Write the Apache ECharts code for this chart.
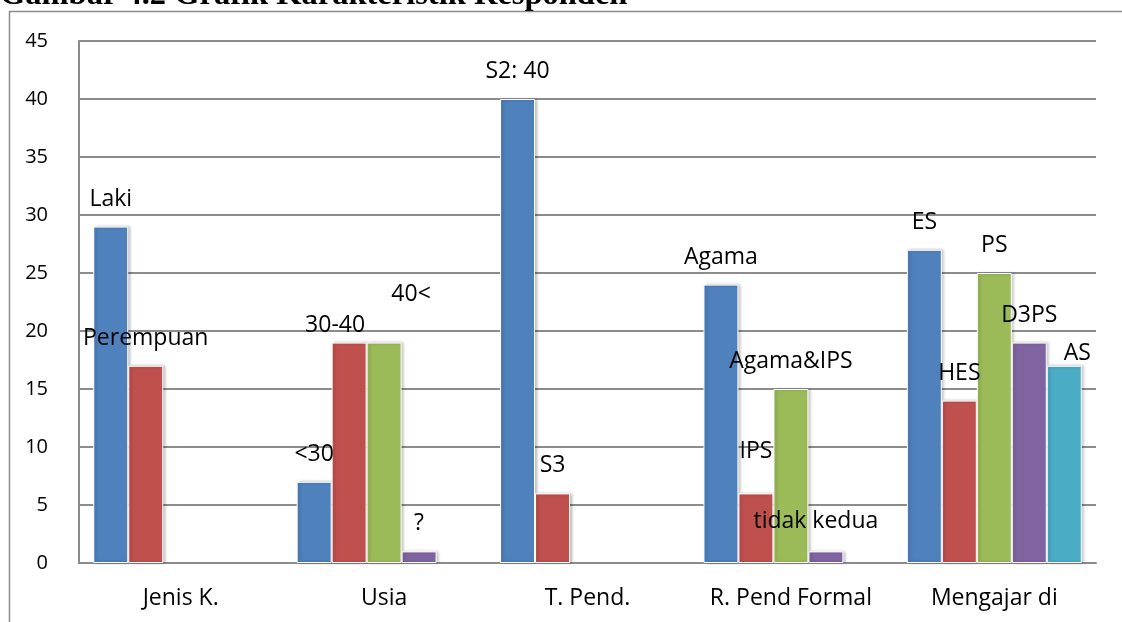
<!DOCTYPE html>
<html>
<head>
<meta charset="utf-8">
<script src="https://cdn.jsdelivr.net/npm/echarts@6/dist/echarts.min.js"></script>
<style>
  html, body { margin: 0; padding: 0; background: #fff; }
  #chart { width: 1122px; height: 622px; }
</style>
</head>
<body>
<div id="chart"></div>
<script>
// categories on the x axis
const categories = ['Jenis K.', 'Usia', 'T. Pend.', 'R. Pend Formal', 'Mengajar di']
const yTicks = [0, 5, 10, 15, 20, 25, 30, 35, 40, 45]

// one array per bar slot inside each group (null = no bar)
const values1 = [29, 7, 40, 24, 27]
const values2 = [17, 19, 6, 6, 14]
const values3 = [null, 19, null, 15, 25]
const values4 = [null, 1, null, 1, 19]
const values5 = [null, null, null, null, 17]

// the text written over each bar
const names1 = ['Laki', '<30', 'S2: 40', 'Agama', 'ES']
const names2 = ['Perempuan', '30-40', 'S3', 'IPS', 'HES']
const names3 = ['', '40<', '', 'Agama&IPS', 'PS']
const names4 = ['', '?', '', 'tidak kedua', 'D3PS']
const names5 = ['', '', '', '', 'AS']

const colors = ['#4F81BD', '#C0504D', '#9BBB59', '#8064A2', '#4BACC6']

// labels that were dragged away from their default place
const labelMoves = {
  '1-1': [-14, 10],
  '2-1': [27, -21],
  '1-3': [0, -14],
  '3-3': [-10, -2],
  '4-4': [13, 15]
}

const font = '"Open Sans", Lato, sans-serif'

function makeSeries (idx, values, names) {
  return {
    type: 'bar',
    name: 's' + idx,
    barGap: '0%',
    barCategoryGap: '14%',
    itemStyle: {
      color: colors[idx],
      borderColor: '#ffffff',
      borderWidth: 1,
      shadowColor: 'rgba(0,0,0,0.25)',
      shadowBlur: 3,
      shadowOffsetX: 2
    },
    data: values.map((v, i) => {
      let item = { value: v }
      let mv = labelMoves[idx + '-' + i]
      if (mv) item.label = { offset: mv }
      return item
    }),
    label: {
      show: true,
      position: 'top',
      distance: 16,
      color: '#000',
      fontFamily: font,
      fontSize: 23,
      formatter: p => (p.value == null ? '' : names[p.dataIndex])
    },
    emphasis: { disabled: true }
  }
}

let chart = echarts.init(document.getElementById('chart'))
chart.setOption({
  animation: false,
  title: {
    text: 'Gambar 4.2 Grafik Karakteristik Responden',
    left: 0,
    top: -21,
    padding: 0,
    textStyle: {
      fontFamily: '"Liberation Serif", "Times New Roman", serif',
      fontWeight: 'bold',
      fontSize: 32.5,
      color: '#000'
    }
  },
  graphic: [
    {
      type: 'rect',
      shape: { x: 9.5, y: 11.5, width: 1140, height: 650 },
      style: { fill: null, stroke: '#8c8c8c', lineWidth: 1.5 },
      silent: true
    }
  ],
  grid: { left: 79, right: 26, top: 41, bottom: 59, containLabel: false },
  xAxis: {
    type: 'category',
    data: categories,
    axisLine: { show: true, lineStyle: { color: '#8c8c8c', width: 2 } },
    axisTick: { show: false },
    axisLabel: {
      interval: 0,
      color: '#000',
      fontFamily: font,
      fontSize: 23,
      margin: 24
    }
  },
  yAxis: {
    type: 'value',
    min: yTicks[0],
    max: yTicks[yTicks.length - 1],
    interval: 5,
    axisLine: { show: true, lineStyle: { color: '#8c8c8c', width: 2 } },
    axisTick: { show: false },
    splitLine: { show: true, lineStyle: { color: '#8c8c8c', width: 2 } },
    axisLabel: {
      color: '#000',
      fontFamily: font,
      fontSize: 20,
      margin: 31
    }
  },
  series: [
    makeSeries(0, values1, names1),
    makeSeries(1, values2, names2),
    makeSeries(2, values3, names3),
    makeSeries(3, values4, names4),
    makeSeries(4, values5, names5)
  ]
})
</script>
</body>
</html>
